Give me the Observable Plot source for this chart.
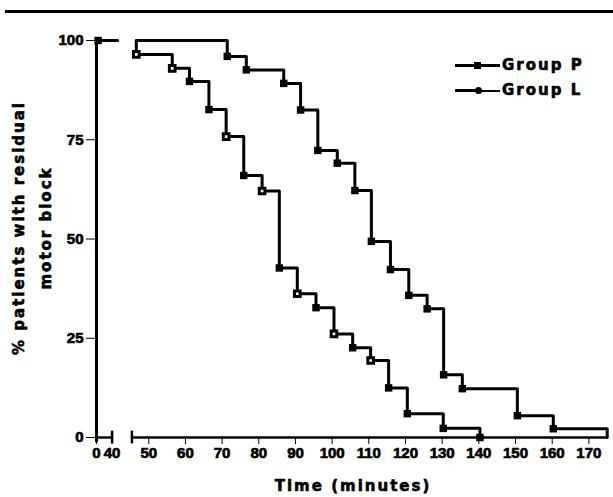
<!DOCTYPE html>
<html><head><meta charset="utf-8">
<script src="https://cdn.jsdelivr.net/npm/d3@7"></script>
<script src="https://cdn.jsdelivr.net/npm/@observablehq/plot@0.6"></script>
<style>
body{margin:0;background:#fff;}
#wrap{position:relative;width:613px;height:497px;overflow:hidden;background:#fff;}
#wrap svg text{stroke:#000;stroke-width:0.7px;}
.t{position:absolute;font-family:"DejaVu Sans";font-weight:bold;font-size:15px;letter-spacing:2px;color:#000;white-space:nowrap;-webkit-text-stroke:0.6px #000;}
.b{position:absolute;background:#000;}
</style></head><body><div id="wrap"></div>
<script>
// ---- data ----
const startTime = 46.6;          // first plotted time after the axis break
const startSurv = 100;
const timesP = [71.4, 76.6, 86.8, 91.4, 96.1, 101.4, 106.2, 110.7, 115.9, 120.9, 125.9, 130.4, 135.5, 150.5, 160.3];
const survP  = [96.0, 92.6, 89.2, 82.5, 72.3, 69.1, 62.2, 49.4, 42.3, 35.8, 32.4, 15.8, 12.3, 5.5, 2.2];
const endTimeP = 175;
const timesL = [46.6, 56.4, 61.1, 66.4, 71.1, 75.9, 80.9, 85.6, 90.5, 95.6, 100.5, 105.6, 110.5, 115.4, 120.5, 130.3, 140.3];
const survL  = [96.5, 93.0, 89.7, 82.6, 75.8, 66.0, 62.1, 42.7, 36.2, 32.7, 26.1, 22.6, 19.4, 12.5, 6.0, 2.3, 0];
const openL  = [true, true, false, false, true, false, true, false, true, false, true, false, true, false, false, false, false];
const stubTimes = [0, 41.5];     // 100% line in the 0–40 segment
const stubMarkerTime = [4];
const xTicks = [0, 40, 50, 60, 70, 80, 90, 100, 110, 120, 130, 140, 150, 160, 170];
const yTicks = [0, 25, 50, 75, 100];
const axisSegments = [[0, 40], [45.4, 175]];
const axisBreakCaps = [40, 45.4];

// ---- build tables ----
const evP = timesP.map((t, i) => ({t, v: survP[i]}));
const evL = timesL.map((t, i) => ({t, v: survL[i], open: openL[i]}));
const lineP = [{t: startTime, v: startSurv}, ...evP, {t: endTimeP, v: 0}];
const lineL = [{t: startTime, v: startSurv}, ...evL];
const stub = stubTimes.map(t => ({t, v: 100}));

const chart = Plot.plot({
  width: 613, height: 497,
  marginTop: 40, marginBottom: 60, marginLeft: 96, marginRight: 6,
  style: {fontFamily: "Liberation Sans", fontSize: "15px", fontWeight: "bold", color: "#000", background: "#fff", overflow: "visible"},
  x: {type: "linear", domain: [0, 40, 175], range: [96, 111.6, 606.7], ticks: xTicks, tickSize: 7, tickPadding: 3, label: null, tickFormat: d => String(d)},
  y: {domain: [0, 100], ticks: yTicks, tickSize: 10, tickPadding: 3, label: null, tickFormat: d => String(d)},
  marks: [
    Plot.ruleX([0], {x: d => d, y1: () => -1.3, y2: () => 100, stroke: "#000", strokeWidth: 3}),
    Plot.ruleY(axisSegments, {x1: d => d[0], x2: d => d[1], y: () => 0, stroke: "#000", strokeWidth: 2.5}),
    Plot.ruleX(axisBreakCaps, {x: d => d, y1: () => -1.6, y2: () => 1.6, stroke: "#000", strokeWidth: 2.5}),
    Plot.line(stub, {x: "t", y: "v", stroke: "#000", strokeWidth: 3}),
    Plot.dot(stubMarkerTime, {x: d => d, y: () => 100, symbol: "square", r: 4.2, fill: "#000"}),
    Plot.line(lineP, {x: "t", y: "v", curve: "step-after", stroke: "#000", strokeWidth: 3}),
    Plot.line(lineL, {x: "t", y: "v", curve: "step-after", stroke: "#000", strokeWidth: 3}),
    Plot.dot(evP, {x: "t", y: "v", symbol: "square", r: 4.2, fill: "#000"}),
    Plot.dot(evL.filter(d => !d.open), {x: "t", y: "v", symbol: "square", r: 4.2, fill: "#000"}),
    Plot.dot(evL.filter(d => d.open), {x: "t", y: "v", symbol: "square", r: 3.2, fill: "#fff", stroke: "#000", strokeWidth: 3})
  ]
});

const wrap = document.getElementById("wrap");
wrap.appendChild(chart);

function add(html) { wrap.insertAdjacentHTML("beforeend", html); }
// top rule
add('<div class="b" style="left:5px;top:10px;width:608px;height:3px"></div>');
// y title
add('<div class="t" style="left:33px;top:228px;transform:translate(-50%,-50%) rotate(-90deg);text-align:center;line-height:27px;">% patients with residual<br>motor block</div>');
// x title
add('<div class="t" style="left:353px;top:486px;transform:translate(-50%,-50%);">Time (minutes)</div>');
// legend
const legendNames = ["Group P", "Group L"];
add('<div class="b" style="left:455px;top:64px;width:45px;height:3px"></div>');
add('<div class="b" style="left:474px;top:62px;width:7px;height:7px"></div>');
add('<div class="b" style="left:455px;top:89px;width:24px;height:3px"></div>');
add('<div class="b" style="left:475px;top:87px;width:7px;height:7px;border-radius:50%"></div>');
add('<div class="b" style="left:479px;top:90px;width:21px;height:1.5px"></div>');
add('<div class="t" style="left:502px;top:56px;line-height:18px;">' + legendNames[0] + '</div>');
add('<div class="t" style="left:502px;top:81px;line-height:18px;">' + legendNames[1] + '</div>');
</script></body></html>
